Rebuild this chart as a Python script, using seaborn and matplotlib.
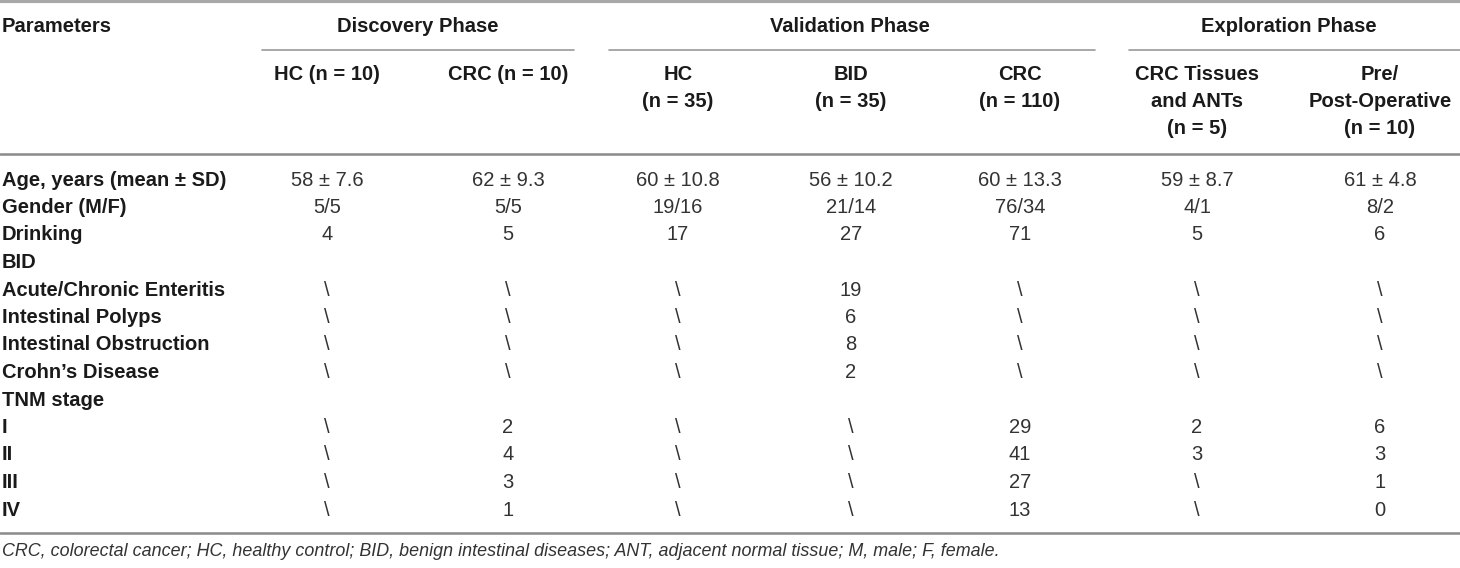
import pandas as pd
import matplotlib.pyplot as plt
import seaborn as sns


phases = ['Discovery Phase', 'Validation Phase', 'Exploration Phase']
phase_cols = [[0, 1], [2, 3, 4], [5, 6]]

groups = ['HC (n = 10)', 'CRC (n = 10)', 'HC\n(n = 35)', 'BID\n(n = 35)',
          'CRC\n(n = 110)', 'CRC Tissues\nand ANTs\n(n = 5)',
          'Pre/\nPost-Operative\n(n = 10)']

params = ['Age, years (mean \u00b1 SD)', 'Gender (M/F)', 'Drinking', 'BID',
          'Acute/Chronic Enteritis', 'Intestinal Polyps',
          'Intestinal Obstruction', 'Crohn\u2019s Disease', 'TNM stage',
          'I', 'II', 'III', 'IV']

age = ['58 \u00b1 7.6', '62 \u00b1 9.3', '60 \u00b1 10.8', '56 \u00b1 10.2',
       '60 \u00b1 13.3', '59 \u00b1 8.7', '61 \u00b1 4.8']
gender = ['5/5', '5/5', '19/16', '21/14', '76/34', '4/1', '8/2']
drinking = ['4', '5', '17', '27', '71', '5', '6']
bid = ['', '', '', '', '', '', '']
enteritis = ['\\', '\\', '\\', '19', '\\', '\\', '\\']
polyps = ['\\', '\\', '\\', '6', '\\', '\\', '\\']
obstruction = ['\\', '\\', '\\', '8', '\\', '\\', '\\']
crohn = ['\\', '\\', '\\', '2', '\\', '\\', '\\']
tnm = ['', '', '', '', '', '', '']
stage_1 = ['\\', '2', '\\', '\\', '29', '2', '6']
stage_2 = ['\\', '4', '\\', '\\', '41', '3', '3']
stage_3 = ['\\', '3', '\\', '\\', '27', '\\', '1']
stage_4 = ['\\', '1', '\\', '\\', '13', '\\', '0']

footnote = ('CRC, colorectal cancer; HC, healthy control; BID, benign intestinal '
            'diseases; ANT, adjacent normal tissue; M, male; F, female.')

table = pd.DataFrame([age, gender, drinking, bid, enteritis, polyps, obstruction,
                      crohn, tnm, stage_1, stage_2, stage_3, stage_4],
                     index=params, columns=groups)


sns.set_theme(style='white')
plt.rcParams['font.family'] = ['Liberation Sans', 'DejaVu Sans']

fig = plt.figure(figsize=(14.6, 5.68), dpi=100)
ax = fig.add_axes([0, 0, 1, 1])
ax.set_xlim(0, 1460)
ax.set_ylim(568, 0)
ax.axis('off')

fs = 14.5
col_x = [327, 508, 678, 851, 1020, 1197, 1380]
span_x = [(262, 574), (609, 1095), (1129, 1460)]
row_y0 = 180
row_dy = 27.5

# rules
ax.axhline(1, color='#a8a8a8', lw=3)
ax.axhline(154, color='#8a8a8a', lw=1.8)
ax.axhline(533, color='#8a8a8a', lw=1.8)
for (x0, x1) in span_x:
    ax.plot([x0, x1], [50, 50], color='#9a9a9a', lw=1.2)

# header
ax.text(2, 26, 'Parameters', fontsize=fs, fontweight='bold', ha='left', va='center',
        color='#1a1a1a')
for name, cols in zip(phases, phase_cols):
    cx = sum(col_x[c] for c in cols) / len(cols)
    ax.text(cx, 26, name, fontsize=fs, fontweight='bold', ha='center', va='center',
            color='#1a1a1a')
for i, g in enumerate(table.columns):
    for j, line in enumerate(g.split('\n')):
        ax.text(col_x[i], 74 + j * 27.5, line, fontsize=fs, fontweight='bold',
                ha='center', va='center', color='#1a1a1a')

# body
for r, (label, row) in enumerate(table.iterrows()):
    y = row_y0 + r * row_dy
    ax.text(2, y, label, fontsize=fs, fontweight='bold', ha='left', va='center',
            color='#1a1a1a')
    for i, val in enumerate(row.values):
        ax.text(col_x[i], y, val, fontsize=fs, ha='center', va='center',
                color='#333333')

ax.text(2, 551, footnote, fontsize=12.9, style='italic', ha='left', va='center',
        color='#333333')

fig.savefig('out.png', dpi=100)
